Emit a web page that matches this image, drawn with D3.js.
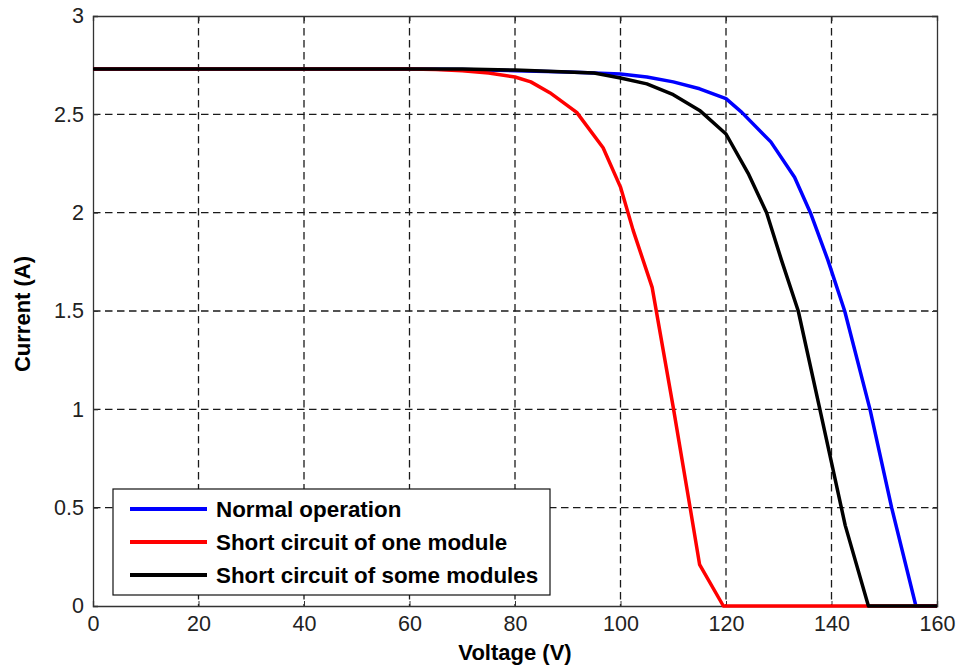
<!DOCTYPE html>
<html>
<head>
<meta charset="utf-8">
<script src="https://cdn.jsdelivr.net/npm/d3@7"></script>
<style>
  body { margin: 0; background: #fff; }
  svg { display: block; font-family: "Liberation Sans", Arial, sans-serif; }
</style>
</head>
<body>
<svg id="chart" width="963" height="669"></svg>
<script>
// values
let normalV = [0, 60, 70, 80, 90, 100, 105, 110, 115, 120, 123, 128.5, 133, 136, 139.3, 142.5, 147.3, 151.4, 156, 160];
let normalI = [2.73, 2.73, 2.728, 2.722, 2.715, 2.705, 2.69, 2.665, 2.63, 2.58, 2.51, 2.36, 2.18, 2.0, 1.76, 1.5, 1.0, 0.5, 0, 0];

let oneV = [0, 60, 65, 70, 75, 80, 83, 86.6, 91.7, 96.7, 100, 102.4, 106, 110, 113.2, 115, 119.5, 160];
let oneI = [2.73, 2.73, 2.728, 2.722, 2.71, 2.69, 2.665, 2.61, 2.51, 2.33, 2.13, 1.91, 1.62, 1.01, 0.5, 0.21, 0, 0];

let someV = [0, 70, 80, 90, 95, 100, 105, 110, 115, 120, 124.2, 127.7, 130.5, 133.7, 137.8, 142.6, 147, 160];
let someI = [2.73, 2.73, 2.725, 2.715, 2.71, 2.685, 2.655, 2.6, 2.52, 2.4, 2.2, 2.0, 1.76, 1.5, 1.0, 0.41, 0, 0];

let xTicks = [0, 20, 40, 60, 80, 100, 120, 140, 160];
let yTicks = [0, 0.5, 1, 1.5, 2, 2.5, 3];
let legendNames = ["Normal operation", "Short circuit of one module", "Short circuit of some modules"];
let colors = ["#0000ff", "#ff0000", "#000000"];

let svg = d3.select("#chart");
let mLeft = 93, mRight = 937, mTop = 16, mBottom = 606;

let x = d3.scaleLinear().domain([0, 160]).range([mLeft, mRight]);
let y = d3.scaleLinear().domain([0, 3]).range([mBottom, mTop]);

// dashed grid
let grid = svg.append("g").attr("class", "grid");
grid.selectAll("line.gx")
  .data(xTicks.slice(1, -1))
  .enter().append("line")
  .attr("x1", d => x(d)).attr("x2", d => x(d))
  .attr("y1", mTop).attr("y2", mBottom);
grid.selectAll("line.gy")
  .data(yTicks.slice(1, -1))
  .enter().append("line")
  .attr("y1", d => y(d)).attr("y2", d => y(d))
  .attr("x1", mLeft).attr("x2", mRight);
grid.selectAll("line")
  .attr("stroke", "#1a1a1a")
  .attr("stroke-width", 1.3)
  .attr("stroke-dasharray", "7.5,4.5");

// axes, ticks point inwards like matlab
let axB = d3.axisBottom(x).tickValues(xTicks).tickSize(-5).tickPadding(10);
let axT = d3.axisTop(x).tickValues(xTicks).tickSize(-5).tickFormat("");
let axL = d3.axisLeft(y).tickValues(yTicks).tickSize(-5).tickPadding(9).tickFormat(d3.format("~g"));
let axR = d3.axisRight(y).tickValues(yTicks).tickSize(-5).tickFormat("");

svg.append("g").attr("transform", `translate(0,${mBottom})`).call(axB);
svg.append("g").attr("transform", `translate(0,${mTop})`).call(axT);
svg.append("g").attr("transform", `translate(${mLeft},0)`).call(axL);
svg.append("g").attr("transform", `translate(${mRight},0)`).call(axR);

svg.selectAll(".domain").attr("stroke", "#333").attr("stroke-width", 1.3);
svg.selectAll(".tick line").attr("stroke", "#333");
svg.selectAll(".tick text")
  .attr("font-size", 21.5)
  .attr("fill", "#222")
  .attr("font-family", "Liberation Sans, Arial, sans-serif");

// curves
let line = d3.line().x(d => x(d[0])).y(d => y(d[1]));
let series = [
  d3.zip(normalV, normalI),
  d3.zip(oneV, oneI),
  d3.zip(someV, someI)
];
svg.append("g").selectAll("path")
  .data(series)
  .enter().append("path")
  .attr("d", line)
  .attr("fill", "none")
  .attr("stroke", (d, i) => colors[i])
  .attr("stroke-width", 3.5)
  .attr("stroke-linejoin", "round");

// axis titles
svg.append("text")
  .attr("x", 515).attr("y", 660)
  .attr("text-anchor", "middle")
  .attr("font-size", 22).attr("font-weight", "bold")
  .text("Voltage (V)");
svg.append("text")
  .attr("transform", "translate(30,314) rotate(-90)")
  .attr("text-anchor", "middle")
  .attr("font-size", 22).attr("font-weight", "bold")
  .text("Current (A)");

// legend
let lg = svg.append("g").attr("transform", "translate(113,489)");
lg.append("rect")
  .attr("width", 437).attr("height", 106)
  .attr("fill", "#fff").attr("stroke", "#111").attr("stroke-width", 1.2);
let rows = lg.selectAll("g.row")
  .data(legendNames)
  .enter().append("g")
  .attr("transform", (d, i) => `translate(0,${20 + i * 33})`);
rows.append("line")
  .attr("x1", 17).attr("x2", 94)
  .attr("stroke", (d, i) => colors[i])
  .attr("stroke-width", 4);
rows.append("text")
  .attr("x", 103).attr("y", 8)
  .attr("font-size", 22.4).attr("font-weight", "bold")
  .text(d => d);
</script>
</body>
</html>
